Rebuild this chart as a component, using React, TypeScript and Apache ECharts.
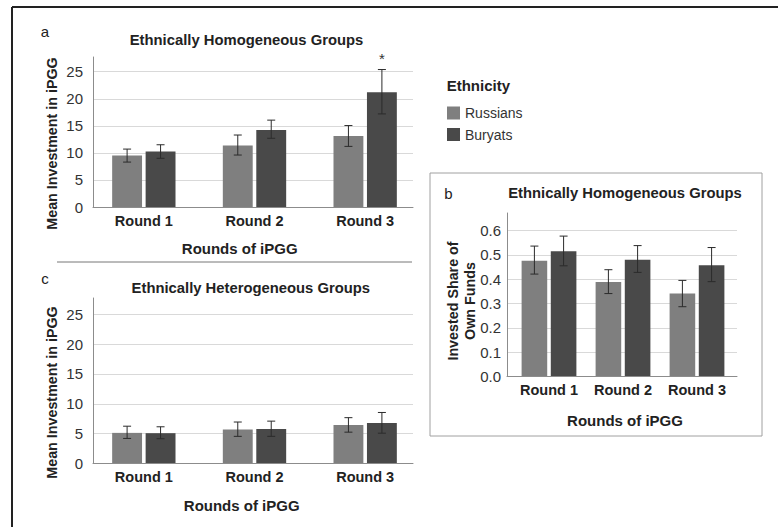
import React, { useEffect, useRef } from 'react';
import * as echarts from 'echarts';

const rounds = ['Round 1', 'Round 2', 'Round 3'];
const seriesNames = ['Russians', 'Buryats'];

// Panel a: Ethnically Homogeneous Groups (mean investment)
const russiansA = [9.5, 11.35, 13.1];
const russiansALow = [8.3, 9.6, 11.2];
const russiansAHigh = [10.7, 13.3, 15.05];
const buryatsA = [10.25, 14.25, 21.2];
const buryatsALow = [9.0, 12.7, 17.2];
const buryatsAHigh = [11.5, 16.05, 25.4];
const buryatsASig = ['', '', '*'];

// Panel c: Ethnically Heterogeneous Groups (mean investment)
const russiansC = [5.13, 5.7, 6.44];
const russiansCLow = [4.2, 4.55, 5.25];
const russiansCHigh = [6.25, 6.95, 7.68];
const buryatsC = [5.08, 5.8, 6.78];
const buryatsCLow = [4.15, 4.55, 5.08];
const buryatsCHigh = [6.15, 7.1, 8.55];

// Panel b: Ethnically Homogeneous Groups (invested share)
const russiansB = [0.476, 0.389, 0.341];
const russiansBLow = [0.421, 0.341, 0.287];
const russiansBHigh = [0.536, 0.439, 0.395];
const buryatsB = [0.515, 0.48, 0.457];
const buryatsBLow = [0.455, 0.428, 0.39];
const buryatsBHigh = [0.577, 0.538, 0.53];

const FONT = "'Liberation Sans', Arial, Helvetica, sans-serif";
const COLORS = ['#7f7f7f', '#494949'];
const AXIS_COLOR = '#8c8c8c';
const GRID_COLOR = '#d9d9d9';

type Panel = {
  plotLeft: number; plotRight: number; zeroY: number; maxY: number; axisTop: number;
  dataLeft: number; dataWidth: number; max: number; interval: number; decimals: number;
  labelMargin: number; barW: number; barGap: number;
  vals: number[][]; lows: number[][]; highs: number[][]; sigs: (string[] | null)[];
};

const panels: Panel[] = [
  {
    plotLeft: 93, plotRight: 413, zeroY: 207, maxY: 71.7, axisTop: 57,
    dataLeft: 88.5, dataWidth: 332, max: 25, interval: 5, decimals: 0, labelMargin: 10,
    barW: 0.27, barGap: 0.12,
    vals: [russiansA, buryatsA], lows: [russiansALow, buryatsALow], highs: [russiansAHigh, buryatsAHigh],
    sigs: [null, buryatsASig],
  },
  {
    plotLeft: 93, plotRight: 413, zeroY: 463.5, maxY: 314.3, axisTop: 298,
    dataLeft: 88.5, dataWidth: 332, max: 25, interval: 5, decimals: 0, labelMargin: 10,
    barW: 0.27, barGap: 0.12,
    vals: [russiansC, buryatsC], lows: [russiansCLow, buryatsCLow], highs: [russiansCHigh, buryatsCHigh],
    sigs: [null, null],
  },
  {
    plotLeft: 507, plotRight: 737, zeroY: 376.6, maxY: 230.5, axisTop: 213,
    dataLeft: 512, dataWidth: 222, max: 0.6, interval: 0.1, decimals: 1, labelMargin: 6,
    barW: 0.346, barGap: 0.14,
    vals: [russiansB, buryatsB], lows: [russiansBLow, buryatsBLow], highs: [russiansBHigh, buryatsBHigh],
    sigs: [null, null],
  },
];

function buildOption() {
  const grid: any[] = [];
  const xAxis: any[] = [];
  const yAxis: any[] = [];
  const series: any[] = [];

  panels.forEach((p, pi) => {
    const base = pi * 3;
    const plotW = p.plotRight - p.plotLeft;
    grid.push({ left: p.plotLeft, top: p.maxY, width: plotW, height: p.zeroY - p.maxY });
    grid.push({ left: p.plotLeft, top: p.axisTop, width: plotW, height: p.zeroY - p.axisTop });
    grid.push({ left: p.dataLeft, top: p.maxY, width: p.dataWidth, height: p.zeroY - p.maxY });

    xAxis.push({
      gridIndex: base, type: 'value', min: 0, max: 1, z: 3,
      axisLine: { show: true, lineStyle: { color: AXIS_COLOR, width: 1 } },
      axisTick: { show: false }, axisLabel: { show: false }, splitLine: { show: false },
    });
    yAxis.push({
      gridIndex: base, type: 'value', min: 0, max: p.max, interval: p.interval,
      axisLine: { show: false }, axisTick: { show: false },
      axisLabel: {
        show: true, margin: p.labelMargin, color: '#333', fontSize: 15, fontFamily: FONT,
        formatter: (v: number) => v.toFixed(p.decimals),
      },
      splitLine: { show: true, lineStyle: { color: GRID_COLOR, width: 1 } },
    });

    xAxis.push({ gridIndex: base + 1, type: 'value', min: 0, max: 1, show: false });
    yAxis.push({
      gridIndex: base + 1, type: 'value', min: 0, max: 1, z: 3,
      axisLine: { show: true, lineStyle: { color: AXIS_COLOR, width: 1 } },
      axisTick: { show: false }, axisLabel: { show: false }, splitLine: { show: false },
    });

    xAxis.push({
      gridIndex: base + 2, type: 'category', data: rounds,
      axisLine: { show: false }, axisTick: { show: false }, splitLine: { show: false },
      axisLabel: {
        interval: 0, hideOverlap: false, margin: 6, color: '#222', fontSize: 14.5,
        fontWeight: 'bold', fontFamily: FONT,
      },
    });
    yAxis.push({ gridIndex: base + 2, type: 'value', min: 0, max: p.max, interval: p.interval, show: false });

    seriesNames.forEach((name, si) => {
      series.push({
        type: 'bar', name, xAxisIndex: base + 2, yAxisIndex: base + 2,
        data: p.vals[si], barWidth: `${p.barW * 100}%`, barGap: `${p.barGap * 100}%`,
        itemStyle: { color: COLORS[si] },
      });
    });
    seriesNames.forEach((_name, si) => {
      const lows = p.lows[si];
      const highs = p.highs[si];
      const sig = p.sigs[si];
      series.push({
        type: 'custom', xAxisIndex: base + 2, yAxisIndex: base + 2, z: 5, silent: true,
        data: lows.map((l, i) => [i, l, highs[i]]),
        encode: { x: 0, y: [1, 2] },
        renderItem: (params: any, api: any) => {
          const cat = api.value(0);
          const lo = api.coord([cat, api.value(1)]);
          const hi = api.coord([cat, api.value(2)]);
          const band = api.size([1, 0])[0];
          const w = band * p.barW;
          const g = w * p.barGap;
          const total = 2 * w + g;
          const cx = lo[0] - total / 2 + w / 2 + si * (w + g);
          const style = { stroke: '#2b2b2b', lineWidth: 1 };
          const children: any[] = [
            { type: 'line', shape: { x1: cx, y1: lo[1], x2: cx, y2: hi[1] }, style },
            { type: 'line', shape: { x1: cx - 4, y1: lo[1], x2: cx + 4, y2: lo[1] }, style },
            { type: 'line', shape: { x1: cx - 4, y1: hi[1], x2: cx + 4, y2: hi[1] }, style },
          ];
          const mark = sig ? sig[params.dataIndex] : '';
          if (mark) {
            children.push({
              type: 'text', x: cx, y: hi[1] - 11,
              style: { text: mark, fill: '#333', font: `15px ${FONT}`, align: 'center', verticalAlign: 'middle' },
            });
          }
          return { type: 'group', children };
        },
      });
    });
  });

  const txt = (text: string, x: number, y: number, size: number, bold: boolean, extra: any = {}) => ({
    type: 'text', x, y, rotation: extra.rotation || 0, z: 10,
    style: {
      text, fill: '#222', fontSize: size, fontWeight: bold ? 'bold' : 'normal', fontFamily: FONT,
      align: extra.align || 'center', verticalAlign: 'middle',
    },
  });

  const graphic: any[] = [
    { type: 'line', shape: { x1: 12, y1: 7, x2: 778, y2: 7 }, style: { stroke: '#222', lineWidth: 2 } },
    { type: 'line', shape: { x1: 12, y1: 7, x2: 12, y2: 527 }, style: { stroke: '#222', lineWidth: 2 } },
    { type: 'line', shape: { x1: 57, y1: 262, x2: 412, y2: 262 }, style: { stroke: '#777', lineWidth: 1 } },
    { type: 'rect', shape: { x: 430, y: 173, width: 332, height: 263 }, style: { fill: 'none', stroke: '#a0a0a0', lineWidth: 1 } },
    txt('a', 45, 31, 15, false),
    txt('Ethnically Homogeneous Groups', 246.5, 40, 14.8, true),
    txt('Mean Investment in iPGG', 51.7, 143.5, 14.3, true, { rotation: Math.PI / 2 }),
    txt('Rounds of iPGG', 239.7, 248.3, 15, true),
    txt('c', 45, 278, 15, false),
    txt('Ethnically Heterogeneous Groups', 250.8, 288.3, 14.8, true),
    txt('Mean Investment in iPGG', 51.7, 392.5, 14.3, true, { rotation: Math.PI / 2 }),
    txt('Rounds of iPGG', 241.7, 505, 15, true),
    txt('b', 448.3, 193.3, 15, false),
    txt('Ethnically Homogeneous Groups', 625, 193.3, 14.8, true),
    txt('Invested Share of', 453.3, 301, 14.3, true, { rotation: Math.PI / 2 }),
    txt('Own Funds', 469.5, 301, 14.3, true, { rotation: Math.PI / 2 }),
    txt('Rounds of iPGG', 625, 420.7, 15, true),
    txt('Ethnicity', 446.7, 85, 15, true, { align: 'left' }),
  ];

  return {
    animation: false,
    backgroundColor: '#ffffff',
    textStyle: { fontFamily: FONT },
    grid, xAxis, yAxis, series, graphic,
    legend: {
      data: seriesNames, orient: 'vertical', left: 447, top: 106, padding: 0,
      itemWidth: 13, itemHeight: 13, itemGap: 7.5, icon: 'rect',
      textStyle: { fontSize: 14, color: '#333', fontFamily: FONT },
      selectedMode: false,
    },
  };
}

export default function App() {
  const ref = useRef<HTMLDivElement>(null);
  useEffect(() => {
    if (!ref.current) return;
    const chart = echarts.init(ref.current, undefined, { renderer: 'svg' });
    chart.setOption(buildOption() as any);
    return () => chart.dispose();
  }, []);
  return (
    <div
      ref={ref}
      style={{ position: 'absolute', left: 0, top: 0, width: 778, height: 527, background: '#fff' }}
    />
  );
}
